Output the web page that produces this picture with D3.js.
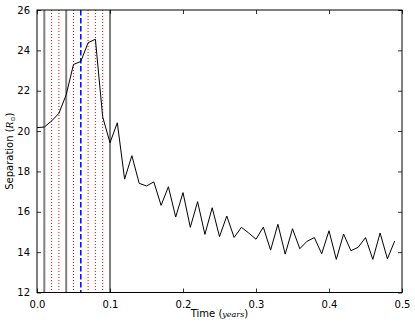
<!DOCTYPE html>
<html>
<head>
<meta charset="utf-8">
<script src="https://cdn.jsdelivr.net/npm/d3@7"></script>
<style>
	body { margin: 0; background: #fff; }
	svg { display: block; font-family: "DejaVu Sans", sans-serif; }
</style>
</head>
<body>
<svg id="chart" width="415" height="327"></svg>
<script>
'use strict';

// time (years) of each sample
var times = [0.00, 0.01, 0.02, 0.03, 0.04, 0.05, 0.06, 0.07, 0.08, 0.09,
	0.10, 0.11, 0.12, 0.13, 0.14, 0.15, 0.16, 0.17, 0.18, 0.19,
	0.20, 0.21, 0.22, 0.23, 0.24, 0.25, 0.26, 0.27, 0.28, 0.29,
	0.30, 0.31, 0.32, 0.33, 0.34, 0.35, 0.36, 0.37, 0.38, 0.39,
	0.40, 0.41, 0.42, 0.43, 0.44, 0.45, 0.46, 0.47, 0.48, 0.49];

// separation in solar radii
var separation = [20.17, 20.2, 20.5, 20.88, 21.8, 23.3, 23.45, 24.38, 24.55, 20.7,
	19.42, 20.41, 17.62, 18.78, 17.41, 17.28, 17.48, 16.32, 17.24, 15.74,
	16.95, 15.23, 16.5, 14.88, 16.2, 14.77, 15.79, 14.73, 15.23, 14.95,
	14.64, 15.24, 14.1, 15.38, 13.9, 15.16, 14.17, 14.54, 14.72, 13.92,
	15.06, 13.64, 14.9, 14.07, 14.24, 14.72, 13.64, 14.95, 13.67, 14.55];

// marker lines
var solidMarks = [0.01, 0.04, 0.1];
var dashedMarks = [0.06];
var dottedMarks = [0.02, 0.03, 0.05, 0.07, 0.08, 0.09];

var xTicks = [0, 0.1, 0.2, 0.3, 0.4, 0.5];
var yTicks = [12, 14, 16, 18, 20, 22, 24, 26];

var margin = {top: 10, right: 13, bottom: 34.5, left: 37};
var width = 415 - margin.left - margin.right;
var height = 327 - margin.top - margin.bottom;

var svg = d3.select('#chart');
var g = svg.append('g')
	.attr('transform', 'translate(' + margin.left + ',' + margin.top + ')');

var x = d3.scaleLinear().domain([0, 0.5]).range([0, width]);
var y = d3.scaleLinear().domain([12, 26]).range([height, 0]);

// vertical marker lines
function vlines(data, cls, color, w, dash) {
	g.selectAll('line.' + cls)
		.data(data)
		.enter()
		.append('line')
		.attr('class', cls)
		.attr('x1', function(d) { return x(d); })
		.attr('x2', function(d) { return x(d); })
		.attr('y1', 0)
		.attr('y2', height)
		.attr('stroke', color)
		.attr('stroke-width', w)
		.attr('stroke-dasharray', dash);
}
vlines(dottedMarks, 'dotted', '#ff0000', 1, '1,2');
vlines(solidMarks, 'solid', '#808080', 2, null);
vlines(dashedMarks, 'dashed', '#0000ff', 1.5, '5.5,2.5');

var line = d3.line()
	.x(function(d, i) { return x(times[i]); })
	.y(function(d) { return y(d); });

g.append('path')
	.datum(separation)
	.attr('d', line)
	.attr('fill', 'none')
	.attr('stroke', '#000')
	.attr('stroke-width', 1)
	.attr('stroke-linejoin', 'round');

// axes, matplotlib classic style: ticks inward on all four sides
var fmtX = d3.format('.1f');
var axBottom = g.append('g')
	.attr('transform', 'translate(0,' + height + ')')
	.call(d3.axisBottom(x).tickValues(xTicks).tickFormat(fmtX).tickSizeInner(-4).tickSizeOuter(0).tickPadding(8));
var axTop = g.append('g')
	.call(d3.axisTop(x).tickValues(xTicks).tickFormat('').tickSizeInner(-4).tickSizeOuter(0));
var axLeft = g.append('g')
	.call(d3.axisLeft(y).tickValues(yTicks).tickSizeInner(-4).tickSizeOuter(0).tickPadding(7));
var axRight = g.append('g')
	.attr('transform', 'translate(' + width + ',0)')
	.call(d3.axisRight(y).tickValues(yTicks).tickFormat('').tickSizeInner(-4).tickSizeOuter(0));

[axBottom, axTop, axLeft, axRight].forEach(function(a) {
	a.select('.domain').remove();
	a.selectAll('text').attr('font-size', 10).attr('font-family', '"DejaVu Sans", sans-serif').attr('fill', '#000');
	a.selectAll('line').attr('stroke', '#000').attr('stroke-width', 0.8);
});

g.append('rect')
	.attr('width', width)
	.attr('height', height)
	.attr('fill', 'none')
	.attr('stroke', '#000')
	.attr('stroke-width', 1);

// axis labels
var xl = svg.append('text')
	.attr('x', margin.left + width / 2)
	.attr('y', 317)
	.attr('text-anchor', 'middle')
	.attr('font-size', 10);
xl.append('tspan').text('Time (');
xl.append('tspan').attr('font-style', 'italic').attr('font-family', '"DejaVu Serif", serif').attr('font-size', 8).text('years');
xl.append('tspan').text(')');

var yl = svg.append('text')
	.attr('transform', 'translate(13,' + (margin.top + height / 2) + ') rotate(-90)')
	.attr('text-anchor', 'middle')
	.attr('font-size', 10);
yl.append('tspan').text('Separation (');
yl.append('tspan').attr('font-style', 'italic').attr('font-family', '"DejaVu Serif", serif').attr('font-size', 9).text('R');
yl.append('tspan').attr('font-size', 6).attr('dy', 2).text('\u2299');
yl.append('tspan').attr('dy', -2).text(')');
</script>
</body>
</html>
